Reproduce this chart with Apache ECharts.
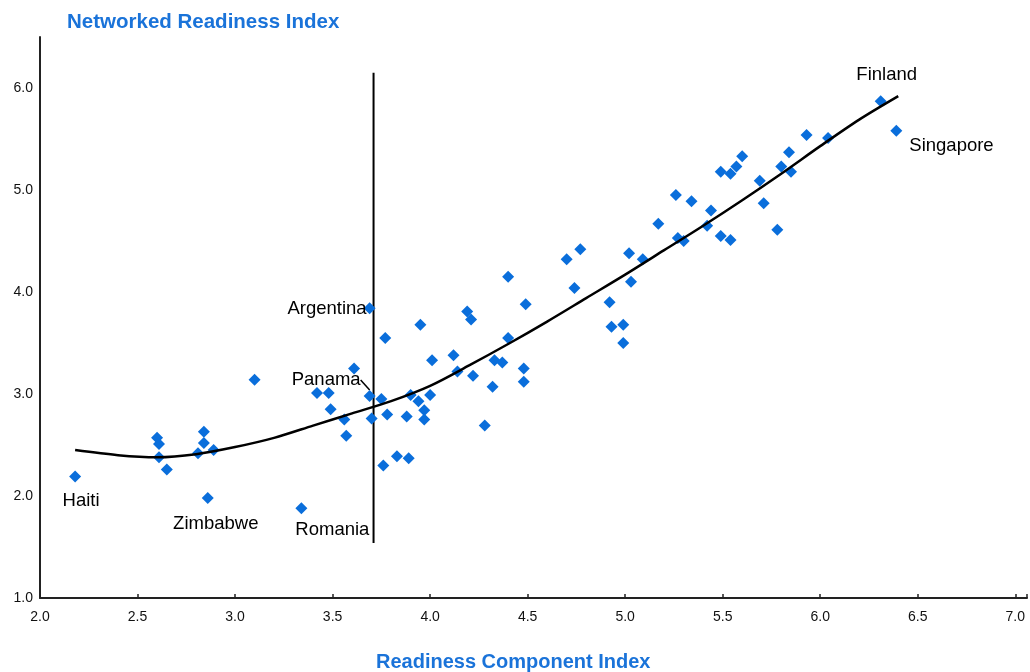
<!DOCTYPE html>
<html><head><meta charset="utf-8">
<script src="https://cdn.jsdelivr.net/npm/echarts@6/dist/echarts.min.js"></script>
<style>html,body{margin:0;padding:0;background:#fff}#c{width:1030px;height:672px}</style>
</head><body><div id="c"></div>
<script>
// Unlabelled countries: Readiness Component Index (x) vs Networked Readiness Index (y)
const countryX = [2.60,2.61,2.61,2.65,2.84,2.84,2.81,2.89,3.10,3.42,3.48,3.49,3.56,3.57,3.61,3.75,3.70,3.77,3.95,3.78,3.88,3.90,3.94,3.97,3.97,4.00,3.76,3.83,3.89,4.01,4.12,4.14,4.22,4.19,4.21,4.28,4.32,4.33,4.37,4.40,4.40,4.49,4.48,4.48,4.70,4.77,4.74,4.92,4.93,4.99,4.99,5.02,5.03,5.09,5.27,5.30,5.17,5.26,5.34,5.44,5.42,5.49,5.54,5.49,5.54,5.57,5.60,5.69,5.71,5.78,5.80,5.85,5.84,5.93,6.04];
const countryY = [2.57,2.51,2.38,2.26,2.63,2.52,2.42,2.45,3.14,3.01,3.01,2.85,2.75,2.59,3.25,2.95,2.76,3.55,3.68,2.80,2.78,2.99,2.93,2.84,2.75,2.99,2.30,2.39,2.37,3.33,3.38,3.22,3.18,3.81,3.73,2.69,3.07,3.33,3.31,3.55,4.15,3.88,3.25,3.12,4.32,4.42,4.04,3.90,3.66,3.68,3.50,4.38,4.10,4.32,4.53,4.50,4.67,4.95,4.89,4.80,4.65,4.55,4.51,5.18,5.16,5.23,5.33,5.09,4.87,4.61,5.23,5.18,5.37,5.54,5.51];
// Labelled countries
const labelNames = ['Haiti','Zimbabwe','Romania','Argentina','Panama','Finland','Singapore'];
const labelX = [2.18,2.86,3.34,3.69,3.69,6.31,6.39];
const labelY = [2.19,1.98,1.88,3.84,2.98,5.87,5.58];
// Trend curve
const trendX = [2.18,2.40,2.60,2.80,3.00,3.20,3.40,3.60,3.80,4.00,4.20,4.40,4.60,4.80,5.00,5.20,5.40,5.60,5.80,6.00,6.20,6.40];
const trendY = [2.45,2.40,2.38,2.41,2.48,2.57,2.69,2.81,2.93,3.08,3.28,3.49,3.71,3.94,4.17,4.41,4.65,4.90,5.16,5.43,5.69,5.92];
// Vertical reference line
const refX = [3.71,3.71];
const refY = [1.54,6.15];
const xTitle = 'Readiness Component Index';
const yTitle = 'Networked Readiness Index';

const FONT = 'Liberation Sans';
const BLUE = '#0A6EDB';
const TITLEBLUE = '#1A73D9';

const placement = {
  Haiti:     {position:'bottom', distance:4},
  Zimbabwe:  {position:'bottom', distance:6},
  Romania:   {position:'bottom', distance:4},
  Argentina: {position:'left', distance:-3},
  Panama:    {position:'left', distance:8},
  Finland:   {position:'top', distance:12},
  Singapore: {position:'right', distance:5}
};
const shift = {
  Haiti:[6,5], Zimbabwe:[8,4], Romania:[31,2], Argentina:[0,1],
  Panama:[5,-16], Finland:[6,1], Singapore:[2,15]
};

const chart = echarts.init(document.getElementById('c'));
const labelled = labelNames.map((n,i)=>({
  name:n, value:[labelX[i],labelY[i]],
  label:Object.assign({show:true, formatter:n}, placement[n]),
  labelLine: n==='Panama' ? {show:true, lineStyle:{color:'#000', width:1.5}} : {show:false}
}));

chart.setOption({
  animation:false,
  title:[
    {text:yTitle, left:62, top:7, textStyle:{fontFamily:FONT, fontSize:20.5, fontWeight:'bold', color:TITLEBLUE}},
    {text:xTitle, left:371, top:647, textStyle:{fontFamily:FONT, fontSize:20, fontWeight:'bold', color:TITLEBLUE}}
  ],
  grid:{left:40, right:0, top:37, bottom:74},
  xAxis:{
    type:'value', min:2, max:7.06, interval:0.5,
    axisLine:{show:true, lineStyle:{color:'#222', width:2}},
    axisTick:{show:true, inside:true, length:4, lineStyle:{color:'#222', width:1.5}},
    splitLine:{show:false},
    axisLabel:{fontFamily:FONT, fontSize:14, color:'#111', margin:12,
      formatter:v=> (Math.abs(v*2-Math.round(v*2))<1e-6 && v<=7) ? v.toFixed(1) : ''}
  },
  yAxis:{
    type:'value', min:1, max:6.5, interval:0.5,
    axisLine:{show:true, lineStyle:{color:'#222', width:2}},
    axisTick:{show:false},
    splitLine:{show:false},
    axisLabel:{fontFamily:FONT, fontSize:14, color:'#111', margin:7,
      formatter:v=> Number.isInteger(v) ? v.toFixed(1) : ''}
  },
  series:[
    {type:'line', data:refX.map((x,i)=>[x,refY[i]]), showSymbol:false, symbol:'none',
      lineStyle:{color:'#000', width:2}, z:1},
    {type:'line', data:trendX.map((x,i)=>[x,trendY[i]]), smooth:0.3, showSymbol:false, symbol:'none',
      lineStyle:{color:'#000', width:2.5}, z:3},
    {type:'scatter', data:countryX.map((x,i)=>[x,countryY[i]]), symbol:'diamond', symbolSize:12,
      itemStyle:{color:BLUE, opacity:1}, z:2},
    {type:'scatter', data:labelled, symbol:'diamond', symbolSize:12, itemStyle:{color:BLUE, opacity:1}, z:2,
      label:{show:true, fontFamily:FONT, fontSize:18.5, color:'#000'},
      labelLayout:function(p){ const s = shift[labelNames[p.dataIndex]]; return {dx:s[0], dy:s[1]}; }}
  ]
});
</script></body></html>
